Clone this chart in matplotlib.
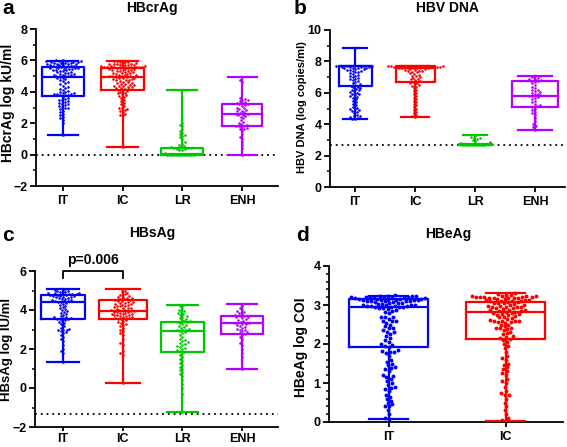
import matplotlib
matplotlib.use('Agg')
import matplotlib.pyplot as plt
import numpy as np
from matplotlib.ticker import MultipleLocator

plt.rcParams['font.family'] = ['Liberation Sans', 'DejaVu Sans']
plt.rcParams['font.weight'] = 'bold'

# ---------------- data ----------------
cats4 = ['IT', 'IC', 'LR', 'ENH']
cats2 = ['IT', 'IC']
colors4 = ['#0000FF', '#FF0000', '#00C800', '#B400FF']

# Panel a: HBcrAg (log kU/ml)
a_IT = [6.0, 6.0, 5.98, 5.96, 5.95, 5.93, 5.92, 5.9, 5.88, 5.86, 5.85, 5.83, 5.82, 5.8, 5.78, 5.76, 5.75, 5.72, 5.7, 5.68,
        5.66, 5.64, 5.62, 5.6, 5.58, 5.55, 5.54, 5.52, 5.5, 5.5, 5.48, 5.46, 5.45, 5.42, 5.4, 5.38, 5.35, 5.3, 5.28, 5.25,
        5.22, 5.2, 5.15, 5.12, 5.1, 5.08, 5.05, 5.03, 5.01, 5.0, 4.95, 4.9, 4.85, 4.8, 4.75, 4.7, 4.62, 4.55, 4.5, 4.4,
        4.3, 4.25, 4.2, 4.1, 4.05, 4.0, 3.96, 3.93, 3.9, 3.88, 3.86, 3.84, 3.82, 3.8, 3.77, 3.7, 3.62, 3.55, 3.5, 3.45,
        3.4, 3.35, 3.3, 3.25, 3.2, 3.15, 3.1, 3.05, 3.0, 2.95, 2.9, 2.8, 2.7, 2.6, 2.5, 2.4, 2.3, 2.2, 2.0, 1.24]
a_IC = [5.97, 5.95, 5.92, 5.9, 5.88, 5.85, 5.82, 5.8, 5.78, 5.76, 5.74, 5.72, 5.7, 5.7, 5.68, 5.66, 5.65, 5.64, 5.62, 5.6,
        5.6, 5.58, 5.58, 5.57, 5.56, 5.55, 5.54, 5.52, 5.5, 5.48, 5.46, 5.44, 5.42, 5.4, 5.38, 5.35, 5.32, 5.3, 5.28, 5.25,
        5.22, 5.2, 5.18, 5.15, 5.12, 5.1, 5.08, 5.05, 5.03, 5.0, 4.99, 4.98, 4.96, 4.93, 4.9, 4.88, 4.85, 4.82, 4.8, 4.78,
        4.75, 4.72, 4.7, 4.65, 4.6, 4.58, 4.55, 4.5, 4.48, 4.45, 4.42, 4.4, 4.38, 4.35, 4.32, 4.3, 4.27, 4.24, 4.2, 4.17,
        4.12, 4.1, 4.05, 4.0, 3.95, 3.9, 3.85, 3.8, 3.75, 3.7, 3.6, 3.5, 3.4, 3.3, 3.2, 3.1, 3.0, 2.95, 2.9, 2.85,
        2.8, 2.7, 2.6, 2.55, 2.5, 0.49]
a_LR = [0.0, 0.0, 0.0, 0.0, 0.0, 0.0, 0.0, 0.0, 0.0, 0.0, 0.05, 0.1, 0.3, 0.32, 0.35, 0.38, 0.4, 0.42, 0.45, 0.48, 0.5,
        0.55, 0.6, 0.7, 0.8, 1.0, 1.1, 1.2, 1.25, 1.3, 1.4, 1.5, 1.6, 1.8, 1.9, 2.0, 4.12]
a_ENH = [4.97, 4.75, 4.6, 3.6, 3.55, 3.5, 3.45, 3.4, 3.35, 3.3, 3.28, 3.22, 3.2, 3.15, 3.1, 3.0, 2.95, 2.9, 2.85, 2.8,
         2.75, 2.7, 2.65, 2.6, 2.56, 2.55, 2.5, 2.45, 2.4, 2.3, 2.2, 2.1, 2.0, 1.95, 1.9, 1.85, 1.81, 1.8, 1.75, 1.7,
         1.65, 1.6, 1.5, 1.3, 1.1, 1.0, 0.8, 0.6, 0.4, 0.0]
a_min = [1.24, 0.49, 0.0, 0.0]
a_q1 = [3.73, 4.12, 0.0, 1.81]
a_med = [4.97, 4.97, 0.05, 2.56]
a_q3 = [5.6, 5.5, 0.43, 3.22]
a_max = [5.97, 5.97, 4.12, 4.97]
a_ref = 0.0

# Panel b: HBV DNA (log copies/ml)
b_IT = [8.87, 7.72, 7.7, 7.7, 7.7, 7.68, 7.68, 7.66, 7.65, 7.64, 7.62, 7.6, 7.6, 7.58, 7.55, 7.52, 7.5, 7.48, 7.45, 7.42,
        7.4, 7.35, 7.3, 7.25, 7.2, 7.15, 7.1, 7.05, 7.0, 6.95, 6.9, 6.85, 6.8, 6.75, 6.7, 6.6, 6.55, 6.5, 6.45, 6.4,
        6.35, 6.3, 6.25, 6.2, 6.15, 6.1, 6.05, 6.0, 5.95, 5.9, 5.85, 5.8, 5.75, 5.7, 5.6, 5.5, 5.4, 5.3, 5.2, 5.1,
        5.05, 5.0, 4.95, 4.9, 4.85, 4.8, 4.7, 4.6, 4.55, 4.5, 4.45, 4.4, 4.35, 4.32]
b_IC = [7.72, 7.72, 7.72, 7.7, 7.7, 7.7, 7.68, 7.68, 7.66, 7.66, 7.65, 7.64, 7.62, 7.62, 7.6, 7.6, 7.58, 7.58, 7.56, 7.55,
        7.55, 7.52, 7.5, 7.48, 7.45, 7.42, 7.4, 7.38, 7.35, 7.3, 7.25, 7.2, 7.15, 7.1, 7.05, 7.0, 6.95, 6.9, 6.85, 6.8,
        6.75, 6.7, 6.65, 6.6, 6.55, 6.5, 6.45, 6.4, 6.3, 6.2, 6.1, 6.0, 5.9, 5.8, 5.7, 5.6, 5.5, 5.4, 5.3, 5.2,
        5.1, 5.0, 4.9, 4.8, 4.7, 4.6, 4.5, 4.43]
b_LR = [2.7, 2.7, 2.7, 2.7, 2.7, 2.7, 2.7, 2.7, 2.75, 2.8, 2.85, 2.9, 3.0, 3.05, 3.1, 3.15, 3.2, 3.32]
b_ENH = [7.1, 7.05, 7.0, 6.95, 6.9, 6.85, 6.8, 6.78, 6.75, 6.7, 6.6, 6.5, 6.4, 6.3, 6.2, 6.15, 6.1, 6.05, 6.0, 5.95,
         5.9, 5.85, 5.82, 5.8, 5.75, 5.7, 5.6, 5.5, 5.4, 5.3, 5.2, 5.15, 5.1, 5.0, 4.9, 4.8, 4.7, 4.6, 4.4, 4.2,
         4.0, 3.9, 3.8, 3.66]
b_min = [4.32, 4.43, 2.7, 3.66]
b_q1 = [6.45, 6.7, 2.7, 5.1]
b_med = [7.68, 7.55, 2.7, 5.81]
b_q3 = [7.72, 7.72, 2.75, 6.77]
b_max = [8.87, 7.72, 3.32, 7.1]
b_ref = 2.7

# Panel c: HBsAg (log IU/ml)
c_IT = [5.1, 5.05, 5.0, 4.98, 4.95, 4.93, 4.9, 4.88, 4.86, 4.85, 4.84, 4.82, 4.8, 4.8, 4.78, 4.76, 4.75, 4.74, 4.72, 4.7,
        4.68, 4.66, 4.65, 4.62, 4.6, 4.58, 4.55, 4.52, 4.5, 4.48, 4.46, 4.45, 4.42, 4.4, 4.35, 4.3, 4.25, 4.2, 4.15, 4.1,
        4.05, 4.0, 3.95, 3.9, 3.85, 3.8, 3.75, 3.7, 3.65, 3.62, 3.6, 3.58, 3.56, 3.55, 3.52, 3.5, 3.45, 3.4, 3.35, 3.3,
        3.2, 3.1, 3.05, 3.0, 2.98, 2.95, 2.9, 2.85, 2.8, 2.7, 2.6, 2.5, 2.4, 2.2, 2.0, 1.9, 1.8, 1.35]
c_IC = [5.1, 5.0, 4.9, 4.85, 4.8, 4.75, 4.7, 4.68, 4.65, 4.62, 4.6, 4.58, 4.55, 4.52, 4.5, 4.48, 4.45, 4.42, 4.4, 4.38,
        4.35, 4.32, 4.3, 4.28, 4.25, 4.22, 4.2, 4.18, 4.15, 4.12, 4.1, 4.08, 4.05, 4.02, 4.0, 3.98, 3.96, 3.95, 3.94, 3.92,
        3.9, 3.88, 3.86, 3.85, 3.82, 3.8, 3.78, 3.76, 3.74, 3.72, 3.7, 3.68, 3.65, 3.62, 3.6, 3.58, 3.55, 3.52, 3.5, 3.45,
        3.4, 3.35, 3.3, 3.25, 3.2, 3.1, 3.0, 2.9, 2.8, 2.7, 2.5, 2.3, 2.2, 1.9, 1.8, 1.7, 0.24]
c_LR = [4.28, 4.2, 4.1, 4.0, 3.95, 3.9, 3.85, 3.8, 3.75, 3.7, 3.65, 3.6, 3.55, 3.5, 3.45, 3.42, 3.4, 3.38, 3.35, 3.3,
        3.25, 3.2, 3.15, 3.1, 3.05, 3.0, 2.98, 2.95, 2.9, 2.85, 2.8, 2.7, 2.6, 2.5, 2.45, 2.4, 2.35, 2.3, 2.25, 2.2,
        2.15, 2.1, 2.05, 2.0, 1.95, 1.9, 1.85, 1.8, 1.7, 1.6, 1.5, 1.4, 1.3, 1.2, 1.1, 1.0, 0.9, 0.8, 0.7, 0.6,
        0.4, 0.2, 0.0, -0.3, -1.25]
c_ENH = [4.33, 4.2, 4.1, 4.0, 3.95, 3.9, 3.85, 3.8, 3.75, 3.7, 3.68, 3.65, 3.62, 3.6, 3.55, 3.5, 3.45, 3.4, 3.35, 3.32,
         3.3, 3.28, 3.25, 3.2, 3.15, 3.1, 3.05, 3.0, 2.95, 2.9, 2.85, 2.8, 2.75, 2.7, 2.6, 2.5, 2.3, 2.2, 2.0, 1.8,
         1.6, 1.0]
c_min = [1.35, 0.24, -1.25, 1.0]
c_q1 = [3.53, 3.52, 1.86, 2.76]
c_med = [4.41, 3.96, 2.92, 3.31]
c_q3 = [4.79, 4.5, 3.36, 3.69]
c_max = [5.1, 5.1, 4.28, 4.33]
c_ref = -1.32
c_pvalue = 'p=0.006'

# Panel d: HBeAg (log COI)
d_IT = [3.25, 3.24, 3.23, 3.22, 3.22, 3.21, 3.2, 3.2, 3.2, 3.19, 3.19, 3.18, 3.18, 3.17, 3.17, 3.16, 3.16, 3.15, 3.15, 3.14,
        3.14, 3.13, 3.13, 3.12, 3.12, 3.11, 3.11, 3.1, 3.1, 3.09, 3.08, 3.07, 3.06, 3.05, 3.04, 3.03, 3.02, 3.01, 3.0, 3.0,
        2.99, 2.98, 2.98, 2.97, 2.97, 2.96, 2.95, 2.95, 2.94, 2.93, 2.92, 2.9, 2.88, 2.85, 2.83, 2.8,
        2.7, 2.7, 2.68, 2.65, 2.6, 2.6, 2.58, 2.55, 2.5, 2.45, 2.42, 2.4, 2.35, 2.3, 2.3, 2.25, 2.2, 2.15, 2.1, 2.05,
        2.0, 1.98, 1.95, 1.93, 1.85, 1.82, 1.8, 1.8, 1.78, 1.7, 1.6, 1.55, 1.5, 1.45, 1.4, 1.38, 1.35, 1.3, 1.2, 1.18,
        1.15, 1.1, 1.05, 1.0, 0.95, 0.9, 0.88, 0.85, 0.8, 0.7, 0.65, 0.6, 0.55, 0.5, 0.45, 0.4, 0.4, 0.3, 0.2, 0.1, 0.07]
d_IC = [3.3, 3.28, 3.26, 3.25, 3.24, 3.23, 3.22, 3.22, 3.21, 3.21, 3.2, 3.2, 3.2, 3.19, 3.19, 3.18, 3.18, 3.17, 3.16, 3.15,
        3.14, 3.13, 3.12, 3.11, 3.1, 3.1, 3.09, 3.08, 3.07, 3.06, 3.05, 3.04, 3.02, 3.0, 2.99, 2.98, 2.97, 2.96, 2.95, 2.95,
        2.94, 2.93, 2.92, 2.9, 2.88, 2.87, 2.86, 2.85, 2.84, 2.83, 2.82, 2.8, 2.8, 2.78, 2.76, 2.75, 2.74, 2.72, 2.7, 2.68,
        2.66, 2.64, 2.62, 2.6, 2.6, 2.59, 2.58, 2.57, 2.56, 2.55, 2.5, 2.48, 2.45, 2.42, 2.4, 2.4, 2.38, 2.35, 2.3, 2.28,
        2.25, 2.2, 2.18, 2.15, 2.13, 2.1, 2.05, 2.0, 1.95, 1.9, 1.8, 1.7, 1.65, 1.6, 1.5, 1.45, 1.4, 1.35, 1.3, 1.25,
        1.2, 1.1, 1.05, 1.0, 0.9, 0.8, 0.75, 0.7, 0.7, 0.6, 0.5, 0.4, 0.3, 0.2, 0.1, 0.05, 0.02]
d_min = [0.07, 0.02]
d_q1 = [1.93, 2.14]
d_med = [2.96, 2.83]
d_q3 = [3.15, 3.08]
d_max = [3.22, 3.3]

# ---------------- layout ----------------
W, H = 567, 447
fig = plt.figure(figsize=(W / 100, H / 100), dpi=100)


def rect(l, r, t, b):
    return [l / W, 1 - b / H, (r - l) / W, (b - t) / H]


def swarm_offsets(ax, vals, dpx):
    vals = np.asarray(vals, float)
    ypx = ax.transData.transform(np.column_stack([np.zeros_like(vals), vals]))[:, 1]
    order = np.argsort(ypx, kind='stable')
    xs = np.zeros(len(vals))
    px_l, py_l = [], []
    for i in order:
        y = ypx[i]
        near = [(px, py) for px, py in zip(px_l, py_l) if abs(py - y) < dpx]
        cands = [0.0]
        for px, py in near:
            dx = np.sqrt(dpx ** 2 - (py - y) ** 2)
            cands += [px - dx, px + dx]
        cands = sorted(cands, key=lambda c: (abs(c), c))
        for c in cands:
            if all((c - px) ** 2 + (y - py) ** 2 >= dpx ** 2 - 1e-6 for px, py in near):
                xs[i] = c
                break
        px_l.append(xs[i])
        py_l.append(y)
    ppu = ax.transData.transform([[1, 0]])[0, 0] - ax.transData.transform([[0, 0]])[0, 0]
    return xs / ppu


def style_axis(ax, major, minor, xlen=3.5, xpad=3):
    for s in ['top', 'right']:
        ax.spines[s].set_visible(False)
    for s in ['left', 'bottom']:
        ax.spines[s].set_linewidth(1.3)
    ax.yaxis.set_major_locator(MultipleLocator(major))
    ax.yaxis.set_minor_locator(MultipleLocator(minor))
    ax.tick_params(axis='y', which='major', length=4, width=1.3, labelsize=9, pad=2)
    ax.tick_params(axis='y', which='minor', length=2.5, width=1.1)
    ax.tick_params(axis='x', which='major', length=xlen, width=1.3, labelsize=9, pad=xpad)


def panel(ax, groups, cats, cols, mins, q1s, meds, q3s, maxs, widths, capfrac, dpx, msize):
    pos = list(range(len(cats)))
    for p, vals, col in zip(pos, groups, cols):
        off = swarm_offsets(ax, vals, dpx)
        ax.scatter(p + off, vals, s=msize, color=col, linewidths=0, zorder=2, clip_on=False)
    for p, col, mn, a, m, b, mx, w in zip(pos, cols, mins, q1s, meds, q3s, maxs, widths):
        st = [{'whislo': mn, 'q1': a, 'med': m, 'q3': b, 'whishi': mx, 'fliers': []}]
        lw = 1.6
        ax.bxp(st, positions=[p], widths=[w], capwidths=[w * capfrac], showfliers=False,
               boxprops=dict(color=col, linewidth=lw), whiskerprops=dict(color=col, linewidth=lw),
               capprops=dict(color=col, linewidth=lw), medianprops=dict(color=col, linewidth=lw),
               manage_ticks=False, zorder=3)
    ax.set_xticks(pos)
    ax.set_xticklabels(cats)


dot = (0, (1, 2.2))

# Panel a
axa = fig.add_axes(rect(36, 278, 29, 186))
axa.set_xlim(-0.45, 3.6)
axa.set_ylim(-2, 8)
style_axis(axa, 2, 1)
axa.axhline(a_ref, color='black', linestyle=dot, linewidth=1.3, zorder=1)
panel(axa, [a_IT, a_IC, a_LR, a_ENH], cats4, colors4, a_min, a_q1, a_med, a_q3, a_max,
      [0.71, 0.71, 0.7, 0.67], 0.72, 3.0, 3.5)
axa.set_ylabel('HBcrAg log kU/ml', fontsize=10, fontweight='bold')
axa.yaxis.set_label_coords(-0.087, 0.53)

# Panel b
axb = fig.add_axes(rect(330, 565, 30, 187))
axb.set_xlim(-0.42, 3.5)
axb.set_ylim(0, 10)
style_axis(axb, 2, 1)
axb.axhline(b_ref, color='black', linestyle=dot, linewidth=1.3, zorder=1)
panel(axb, [b_IT, b_IC, b_LR, b_ENH], cats4, colors4, b_min, b_q1, b_med, b_q3, b_max,
      [0.55, 0.65, 0.55, 0.78], 0.72, 3.0, 3.5)
axb.set_ylabel('HBV DNA (log copies/ml)', fontsize=8, fontweight='bold')
axb.yaxis.set_label_coords(-0.098, 0.51)

# Panel c
axc = fig.add_axes(rect(35, 278, 271, 427))
axc.set_xlim(-0.47, 3.6)
axc.set_ylim(-2, 6)
style_axis(axc, 2, 1, xlen=3, xpad=1.5)
axc.axhline(c_ref, color='black', linestyle=dot, linewidth=1.3, zorder=1)
panel(axc, [c_IT, c_IC, c_LR, c_ENH], cats4, colors4, c_min, c_q1, c_med, c_q3, c_max,
      [0.73, 0.8, 0.72, 0.7], 0.72, 3.0, 3.5)
axc.set_ylabel('HBsAg log IU/ml', fontsize=9.5, fontweight='bold')
axc.yaxis.set_label_coords(-0.09, 0.5)
axc.plot([0, 0, 1, 1], [5.62, 6.0, 6.0, 5.62], color='black', linewidth=1.3, clip_on=False)
axc.text(0.5, 6.2, c_pvalue, ha='center', va='bottom', fontsize=10, fontweight='bold')

# Panel d
axd = fig.add_axes(rect(329, 563, 266, 422))
axd.set_xlim(-0.51, 1.49)
axd.set_ylim(0, 4)
style_axis(axd, 1, 0.2)
panel(axd, [d_IT, d_IC], cats2, colors4[:2], d_min, d_q1, d_med, d_q3, d_max,
      [0.67, 0.67], 0.5, 4.0, 8.0)
axd.set_ylabel('HBeAg log COI', fontsize=10, fontweight='bold')
axd.yaxis.set_label_coords(-0.09, 0.478)

# Titles and panel letters
for x, y, t in [(152, 8, 'HBcrAg'), (447, 8, 'HBV DNA'), (152, 233, 'HBsAg'), (448, 234, 'HBeAg')]:
    fig.text(x / W, 1 - y / H, t, ha='center', va='center', fontsize=10, fontweight='bold')
for x, y, t in [(2, 9, 'a'), (294, 9, 'b'), (2, 235, 'c'), (296, 235, 'd')]:
    fig.text(x / W, 1 - y / H, t, ha='left', va='center', fontsize=15, fontweight='bold')

fig.savefig('out.png', dpi=100)
